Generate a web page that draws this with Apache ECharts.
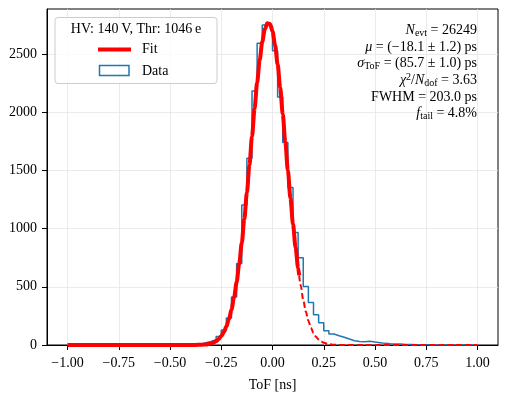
<!DOCTYPE html>
<html>
<head>
<meta charset="utf-8">
<script src="https://cdn.jsdelivr.net/npm/echarts@6/dist/echarts.min.js"></script>
<style>
html,body{margin:0;padding:0;background:#fff;}
#c{width:508px;height:397px;}
</style>
</head>
<body>
<div id="c"></div>
<script>
// ---- Data ----
const binStart = -1.0;
const binWidth = 0.025;
// histogram counts, 80 bins from -1.00 to 1.00 ns
const counts = [
  0,0,0,0,0,0,0,0,0,0,
  0,0,0,0,0,0,0,0,0,0,
  0,0,0,1,3,8,20,30,45,72,
  129,232,412,700,1203,1604,2183,2592,2750,2740,
  2528,2130,1741,1353,966,750,503,365,259,192,
  123,95,80,66,52,37,30,28,33,26,
  20,14,10,8,9,5,4,3,3,2,
  2,1,1,1,0,1,0,0,0,0
];
// fit curve (solid part, inside fit range)
const fitX = [-1.0,-0.5,-0.45,-0.4,-0.375,-0.35,-0.325,-0.3,-0.2875,-0.275,-0.2625,-0.25,-0.2375,-0.225,-0.2125,-0.2,-0.1875,-0.175,-0.1625,-0.15,-0.1375,-0.125,-0.1125,-0.1,-0.0875,-0.075,-0.0625,-0.05,-0.0375,-0.025,-0.0125,0.0,0.0125,0.025,0.0375,0.05,0.0625,0.075,0.0875,0.1,0.1125,0.125,0.13];
const fitY = [0,0,0,0.15,0.5,1.7,4.9,13,21,33,51,76,111,158,222,305,410,539,696,877,1082,1308,1547,1792,2031,2255,2450,2605,2713,2765,2759,2696,2578,2413,2212,1984,1743,1499,1261,1039,838,662,599];
// fit curve extrapolation (dashed)
const extX = [0.13,0.1375,0.15,0.1625,0.175,0.1875,0.2,0.2125,0.225,0.2375,0.25,0.275,0.3,0.325,0.35,0.4,1.0];
const extY = [599,512,387,287,208,148,103,70,47,30,19,7.4,2.6,0.8,0.25,0,0];
// axis ticks
const xTicks = [-1.0,-0.75,-0.5,-0.25,0.0,0.25,0.5,0.75,1.0];
const yTicks = [0,500,1000,1500,2000,2500];
const legendTitle = 'HV: 140\u2009V, Thr: 1046\u2009e';
const xTitle = 'ToF [ns]';

// ---- build ----
const histData = [[binStart, 0]];
counts.forEach((c, i) => histData.push([binStart + i * binWidth, c]));
histData.push([binStart + counts.length * binWidth, counts[counts.length - 1]]);
histData.push([binStart + counts.length * binWidth, 0]);
const fitData = fitX.map((x, i) => [x, fitY[i]]);
const extData = extX.map((x, i) => [x, extY[i]]);

const FONT = 'Liberation Serif';
const fmtX = v => (v < 0 ? '\u2212' : '') + Math.abs(v).toFixed(2);
const fmtY = v => String(Math.round(v));

const rich = {
  n: {fontFamily: FONT, fontSize: 14, lineHeight: 16, fill: '#000'},
  i: {fontFamily: FONT, fontSize: 14, fontStyle: 'italic', lineHeight: 16, fill: '#000'},
  sub: {fontFamily: FONT, fontSize: 10, lineHeight: 9, verticalAlign: 'bottom', fill: '#000'},
  sup: {fontFamily: FONT, fontSize: 10, lineHeight: 10, verticalAlign: 'top', fill: '#000'}
};
const statLines = [
  ['{i|N}{sub|evt}{n| = 26249}', 30],
  ['{i|\u03bc}{n| = (\u221218.1 \u00b1 1.2) ps}', 47],
  ['{i|\u03c3}{sub|ToF}{n| = (85.7 \u00b1 1.0) ps}', 63],
  ['{i|\u03c7}{sup|2}{n|/}{i|N}{sub|dof}{n| = 3.63}', 80],
  ['{n|FWHM = 203.0 ps}', 97],
  ['{i|f}{sub|tail}{n| = 4.8%}', 113]
];

const graphics = [
  {type: 'rect', z: 100, shape: {x: 55, y: 17.5, width: 162, height: 66, r: 3},
   style: {fill: 'rgba(255,255,255,0.8)', stroke: '#cccccc', lineWidth: 1}},
  {type: 'text', z: 101, style: {text: legendTitle, x: 136, y: 29, align: 'center', verticalAlign: 'middle',
    fontFamily: FONT, fontSize: 14, fill: '#000'}},
  {type: 'line', z: 101, shape: {x1: 98, y1: 49.5, x2: 131, y2: 49.5}, style: {stroke: '#ff0000', lineWidth: 4}},
  {type: 'text', z: 101, style: {text: 'Fit', x: 142, y: 49.5, align: 'left', verticalAlign: 'middle',
    fontFamily: FONT, fontSize: 14, fill: '#000'}},
  {type: 'rect', z: 101, shape: {x: 99.5, y: 65.5, width: 29.5, height: 10},
   style: {fill: 'none', stroke: '#1f77b4', lineWidth: 1.5}},
  {type: 'text', z: 101, style: {text: 'Data', x: 142, y: 71, align: 'left', verticalAlign: 'middle',
    fontFamily: FONT, fontSize: 14, fill: '#000'}}
];
statLines.forEach(([t, y]) => graphics.push({type: 'text', z: 101,
  style: {text: t, x: 477, y: y, align: 'right', verticalAlign: 'middle', rich: rich, fontFamily: FONT, fontSize: 14, fill: '#000'}}));

const chart = echarts.init(document.getElementById('c'), null, {renderer: 'canvas'});
chart.setOption({
  animation: false,
  backgroundColor: '#fff',
  grid: {left: 47, right: 10, top: 9, bottom: 52, show: true, borderColor: '#000', borderWidth: 1, backgroundColor: 'transparent'},
  xAxis: {
    type: 'value', min: -1.1, max: 1.1,
    name: xTitle, nameLocation: 'middle', nameGap: 33,
    nameTextStyle: {fontFamily: FONT, fontSize: 14, color: '#000'},
    axisLine: {show: true, onZero: false, lineStyle: {color: '#000', width: 1}},
    axisTick: {show: true, length: 5, lineStyle: {color: '#000', width: 1}, customValues: xTicks},
    axisLabel: {customValues: xTicks, formatter: fmtX, margin: 11, fontFamily: FONT, fontSize: 14, color: '#000'},
    splitLine: {show: true, lineStyle: {color: '#e6e6e6', width: 0.8}}
  },
  yAxis: {
    type: 'value', min: 0, max: 2887,
    axisLine: {show: true, onZero: false, lineStyle: {color: '#000', width: 1}},
    axisTick: {show: true, length: 5, lineStyle: {color: '#000', width: 1}, customValues: yTicks},
    axisLabel: {customValues: yTicks, formatter: fmtY, margin: 10, fontFamily: FONT, fontSize: 14, color: '#000'},
    splitLine: {show: true, lineStyle: {color: '#e6e6e6', width: 0.8}}
  },
  series: [
    {type: 'line', name: 'Data', data: histData, step: 'end', symbol: 'none', z: 2,
     lineStyle: {color: '#1f77b4', width: 1.5}},
    {type: 'line', name: 'Fit', data: fitData, symbol: 'none', smooth: 0.3, smoothMonotone: 'x', z: 4,
     lineStyle: {color: '#ff0000', width: 4}},
    {type: 'line', name: 'FitExt', data: extData, symbol: 'none', smooth: 0.3, smoothMonotone: 'x', z: 3,
     lineStyle: {color: '#ff0000', width: 2, type: [6, 3]}}
  ],
  graphic: graphics
});
</script>
</body>
</html>
